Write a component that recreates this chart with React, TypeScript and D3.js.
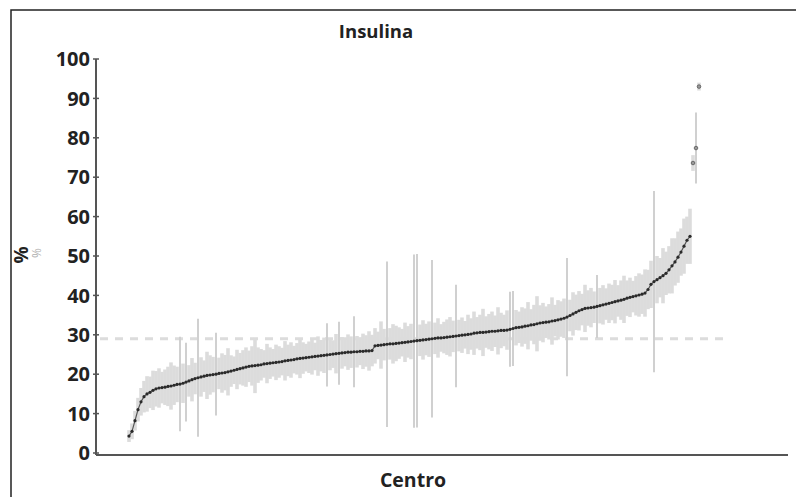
import React from "react";
import * as d3 from "d3";

// Centre means (%), sorted ascending
const means: number[] = [
  4.3, 5.5, 8.2, 11.0, 13.0, 14.3, 15.0, 15.4, 15.9, 16.3,
  16.5, 16.6, 16.7, 16.9, 17.0, 17.2, 17.4, 17.5, 17.7, 18.0,
  18.3, 18.6, 18.9, 19.1, 19.3, 19.5, 19.7, 19.8, 19.9, 20.0,
  20.2, 20.3, 20.4, 20.6, 20.8, 21.0, 21.2, 21.4, 21.6, 21.8,
  22.0, 22.1, 22.2, 22.3, 22.4, 22.6, 22.7, 22.8, 22.9, 23.0,
  23.1, 23.2, 23.4, 23.5, 23.6, 23.7, 23.9, 24.0, 24.1, 24.2,
  24.3, 24.4, 24.5, 24.6, 24.7, 24.8, 24.9, 25.0, 25.1, 25.2,
  25.3, 25.4, 25.5, 25.6, 25.6, 25.7, 25.7, 25.8, 25.8, 25.9,
  25.9, 26.0, 27.2, 27.3, 27.4, 27.5, 27.6, 27.7, 27.7, 27.8,
  27.9, 28.0, 28.1, 28.2, 28.3, 28.4, 28.5, 28.6, 28.7, 28.8,
  28.9, 29.0, 29.1, 29.2, 29.2, 29.3, 29.4, 29.5, 29.6, 29.7,
  29.8, 29.9, 30.0, 30.1, 30.2, 30.4, 30.5, 30.6, 30.6, 30.7,
  30.8, 30.9, 30.9, 31.0, 31.1, 31.1, 31.2, 31.4, 31.6, 31.8,
  31.9, 32.0, 32.2, 32.3, 32.5, 32.6, 32.8, 33.0, 33.1, 33.2,
  33.3, 33.5, 33.6, 33.8, 34.0, 34.2, 34.5, 34.9, 35.3, 35.7,
  36.1, 36.4, 36.7, 36.8, 36.9, 37.0, 37.2, 37.4, 37.6, 37.8,
  38.0, 38.2, 38.4, 38.6, 38.8, 39.0, 39.3, 39.5, 39.7, 39.9,
  40.1, 40.3, 40.6, 41.5, 42.8, 43.5, 44.0, 44.5, 45.0, 45.6,
  46.5, 47.5, 48.5, 49.7, 51.0, 52.5, 54.0, 55.0,
  73.6, 77.4, 93.0,
];

// Half-width of each centre's interval (%)
const halfWidths: number[] = [
  1.5, 2, 2.5, 3, 3.5, 4, 4.5, 4, 5, 4.5,
  5, 4, 4.5, 5, 6, 5, 4.5, 12, 5, 10,
  4, 5.5, 4, 15, 5, 4, 6, 5, 4.5, 10.5,
  4, 5, 4.5, 6, 4, 3.5, 5, 4, 4.5, 5,
  4, 5, 7, 4.5, 4, 3.5, 5, 4, 3.5, 4.5,
  4, 3.5, 5, 4, 4.5, 3.5, 4, 5, 4, 3.5,
  4, 4.5, 3.5, 5, 4, 4.5, 8, 4, 3.5, 5,
  8, 4, 3.5, 4.5, 4, 9, 4, 3.5, 4.5, 4,
  5, 4, 4.5, 3.5, 6, 4, 21, 4, 5, 4.5,
  4, 3.5, 5, 4, 4.5, 22, 22, 4, 5, 4,
  4.5, 20, 4, 5, 3.5, 4, 4.5, 5, 4, 13,
  4, 4.5, 3.5, 5, 4, 5.5, 4, 4.5, 6, 4,
  4.5, 5, 4, 6, 4.5, 4, 5, 9.5, 9.5, 4.5,
  4, 5, 4.5, 6, 4, 5, 7, 4.5, 5, 4,
  4.5, 6, 4, 5, 4.5, 5, 15, 4, 5.5, 4.5,
  5, 4, 6, 4.5, 5, 4, 8, 4.5, 5, 4,
  5, 4.5, 5.5, 4, 5, 6, 4.5, 5, 4, 5,
  5.5, 5, 6, 5, 6, 23, 6, 5, 7, 5.5,
  6, 7, 6, 6.5, 6, 7, 6, 7,
  2, 9, 1,
];

const yTicks: number[] = [0, 10, 20, 30, 40, 50, 60, 70, 80, 90, 100];
const referenceValue = 29;
const title = "Insulina";
const xLabel = "Centro";
const yLabel = "%";

const W = 796;
const H = 497;
const FONT = "'Open Sans', 'DejaVu Sans', sans-serif";

export default function App() {
  const n = means.length;
  const x = d3.scaleLinear().domain([0, n - 1]).range([129, 699]);
  const y = d3.scaleLinear().domain([0, 100]).range([453, 59]);
  const axisX0 = 96;
  const axisX1 = 788;
  const axisY = 455;

  const mainIdx = d3.range(n).filter((i) => i <= n - 4);
  const outIdx = d3.range(n).filter((i) => i > n - 4);

  const line = d3
    .line<number>()
    .x((i) => x(i))
    .y((i) => y(means[i]));

  const normal = d3.range(n).filter((i) => halfWidths[i] < 7.5);
  const wide = d3.range(n).filter((i) => halfWidths[i] >= 7.5);

  return (
    <svg
      width={W}
      height={H}
      style={{ position: "absolute", left: 0, top: 0, background: "#fff" }}
    >
      <rect x={0} y={0} width={W} height={H} fill="#fff" />
      {/* outer frame */}
      <rect x={11} y={10} width={W + 20} height={H + 20} fill="none" stroke="#222" strokeWidth={1.5} />

      {/* title */}
      <text x={376} y={38} textAnchor="middle" fontFamily={FONT} fontWeight={700} fontSize={18.5} fill="#222">
        {title}
      </text>

      {/* reference dashed line */}
      <line
        x1={100}
        x2={730}
        y1={y(referenceValue)}
        y2={y(referenceValue)}
        stroke="#dcdcdc"
        strokeWidth={3}
        strokeDasharray="8,7"
      />

      {/* wide intervals (thin lines) */}
      <g stroke="#d0d0d0" strokeWidth={2}>
        {wide.map((i) => (
          <line key={i} x1={x(i)} x2={x(i)} y1={y(means[i] - halfWidths[i])} y2={y(means[i] + halfWidths[i])} />
        ))}
      </g>
      {/* regular intervals (dense band) */}
      <g stroke="#dcdcdc" strokeWidth={3.6}>
        {normal.map((i) => (
          <line key={i} x1={x(i)} x2={x(i)} y1={y(means[i] - halfWidths[i])} y2={y(means[i] + halfWidths[i])} />
        ))}
      </g>

      {/* main trend of means */}
      <path d={line(mainIdx) || ""} fill="none" stroke="#555" strokeWidth={1.2} />
      <g fill="#2a2a2a">
        {mainIdx.map((i) => (
          <circle key={i} cx={x(i)} cy={y(means[i])} r={1.6} />
        ))}
      </g>
      <g fill="#999" stroke="#555" strokeWidth={0.8}>
        {outIdx.map((i) => (
          <circle key={i} cx={x(i)} cy={y(means[i])} r={1.8} />
        ))}
      </g>

      {/* y axis */}
      <line x1={axisX0} x2={axisX0} y1={y(100)} y2={axisY} stroke="#555" strokeWidth={2} />
      {yTicks.map((t) => (
        <g key={t}>
          <line x1={axisX0 - 3} x2={axisX0 + 3} y1={y(t)} y2={y(t)} stroke="#555" strokeWidth={1.5} />
          <text
            x={axisX0 - 6}
            y={y(t)}
            dy="0.36em"
            textAnchor="end"
            fontFamily={FONT}
            fontWeight={700}
            fontSize={20}
            fill="#222"
          >
            {t}
          </text>
        </g>
      ))}

      {/* x axis */}
      <line x1={axisX0} x2={axisX1} y1={axisY} y2={axisY} stroke="#555" strokeWidth={2} />

      {/* axis labels */}
      <text
        transform={`translate(28,255) rotate(-90)`}
        textAnchor="middle"
        fontFamily={FONT}
        fontWeight={700}
        fontSize={19}
        fill="#222"
      >
        {yLabel}
      </text>
      <text
        transform={`translate(41,253) rotate(-90)`}
        textAnchor="middle"
        fontFamily={FONT}
        fontWeight={400}
        fontSize={12}
        fill="#b0b0b0"
      >
        {yLabel}
      </text>
      <text x={413} y={487} textAnchor="middle" fontFamily={FONT} fontWeight={700} fontSize={19.5} fill="#222">
        {xLabel}
      </text>
    </svg>
  );
}
